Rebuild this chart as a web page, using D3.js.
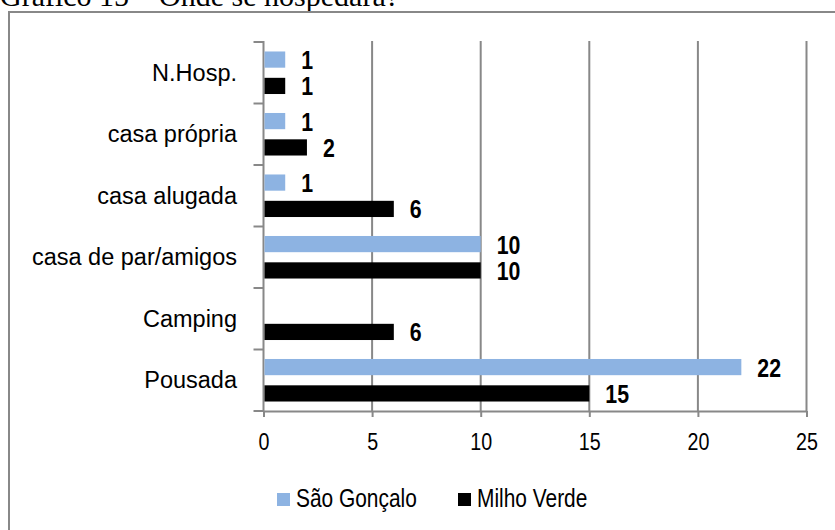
<!DOCTYPE html>
<html>
<head>
<meta charset="utf-8">
<script src="https://cdn.jsdelivr.net/npm/d3@7"></script>
<style>
  body { margin: 0; background: #fff; }
  svg { display: block; }
</style>
</head>
<body>
<div id="chart"></div>
<script>
var width = 835,
    height = 530;

// data
var categories = ["N.Hosp.", "casa própria", "casa alugada", "casa de par/amigos", "Camping", "Pousada"];
var saoGoncalo = [1, 1, 1, 10, null, 22];
var milhoVerde = [1, 2, 6, 10, 6, 15];
var seriesNames = ["São Gonçalo", "Milho Verde"];
var xTicks = [0, 5, 10, 15, 20, 25];

var colors = ["#8db3e2", "#000000"];
var gridColor = "#888888";
var sans = "'Liberation Sans', Arial, sans-serif";
var squeeze = 0.82;   // no Arial Narrow here, so squash Liberation Sans instead

var svg = d3.select("#chart").append("svg")
    .attr("width", width)
    .attr("height", height);

svg.append("rect")
    .attr("width", width).attr("height", height)
    .attr("fill", "#fff");

// caption above the box, mostly cut off
svg.append("text")
    .attr("x", 0)
    .attr("y", 6)
    .style("font-family", "'Liberation Serif', 'Times New Roman', serif")
    .style("font-size", "30px")
    .attr("fill", "#000")
    .text("Gráfico 15 – Onde se hospedará?");

// chart box
svg.append("rect")
    .attr("x", 9).attr("y", 12)
    .attr("width", 900).attr("height", 600)
    .attr("fill", "none")
    .attr("stroke", gridColor)
    .attr("stroke-width", 2);

var x = d3.scaleLinear().domain([0, 25]).range([263.5, 806.5]);
var y = d3.scaleBand().domain(categories).range([42, 411]);
var ySub = d3.scaleBand().domain(seriesNames)
    .range([0, y.bandwidth()])
    .paddingInner(0.385)
    .paddingOuter(0.36);

// vertical gridlines
svg.append("g").selectAll("line")
    .data(xTicks.slice(1))
    .enter().append("line")
    .attr("x1", function(d) { return x(d); })
    .attr("x2", function(d) { return x(d); })
    .attr("y1", 41)
    .attr("y2", 411)
    .attr("stroke", gridColor)
    .attr("stroke-width", 2);

// x axis
var xAxis = svg.append("g")
    .attr("transform", "translate(0,411)")
    .call(d3.axisBottom(x).tickValues(xTicks).tickSize(6).tickPadding(16).tickSizeOuter(0));
xAxis.select(".domain").attr("stroke", gridColor).attr("stroke-width", 2);
xAxis.selectAll(".tick line").attr("stroke", gridColor).attr("stroke-width", 2);
xAxis.selectAll(".tick text")
    .attr("fill", "#000")
    .attr("transform", "scale(" + squeeze + ",1)")
    .style("font-family", sans)
    .style("font-size", "24px");

// y axis line with ticks between categories
svg.append("line")
    .attr("x1", x(0)).attr("x2", x(0))
    .attr("y1", 41).attr("y2", 412)
    .attr("stroke", gridColor)
    .attr("stroke-width", 2);

var bounds = categories.map(function(c) { return y(c); }).concat([y.range()[1]]);
svg.append("g").selectAll("line")
    .data(bounds)
    .enter().append("line")
    .attr("x1", x(0) - 10)
    .attr("x2", x(0))
    .attr("y1", function(d) { return d; })
    .attr("y2", function(d) { return d; })
    .attr("stroke", gridColor)
    .attr("stroke-width", 2);

// category labels
svg.append("g").selectAll("text")
    .data(categories)
    .enter().append("text")
    .attr("x", 237)
    .attr("y", function(d) { return y(d) + y.bandwidth() / 2 + 8; })
    .attr("text-anchor", "end")
    .style("font-family", sans)
    .style("font-size", "23.5px")
    .attr("fill", "#000")
    .text(function(d) { return d; });

// bars + labels
var series = [saoGoncalo, milhoVerde];
series.forEach(function(vals, si) {
    var rows = categories.map(function(c, i) { return { cat: c, value: vals[i] }; })
        .filter(function(d) { return d.value != null; });

    svg.append("g").selectAll("rect")
        .data(rows)
        .enter().append("rect")
        .attr("x", x(0) + 1)
        .attr("y", function(d) { return y(d.cat) + ySub(seriesNames[si]); })
        .attr("width", function(d) { return x(d.value) - x(0) - 1; })
        .attr("height", ySub.bandwidth())
        .attr("fill", colors[si]);

    svg.append("g").selectAll("text")
        .data(rows)
        .enter().append("text")
        .attr("transform", function(d) {
            var tx = x(d.value) + 16,
                ty = y(d.cat) + ySub(seriesNames[si]) + ySub.bandwidth() / 2 + 9.5;
            return "translate(" + tx + "," + ty + ") scale(" + squeeze + ",1)";
        })
        .style("font-family", sans)
        .style("font-size", "26px")
        .style("font-weight", "bold")
        .attr("fill", "#000")
        .text(function(d) { return d.value; });
});

// legend
var legend = svg.append("g").selectAll("g")
    .data(seriesNames)
    .enter().append("g")
    .attr("transform", function(d, i) { return "translate(" + [277, 458][i] + ",493)"; });

legend.append("rect")
    .attr("width", 13).attr("height", 13)
    .attr("fill", function(d, i) { return colors[i]; });

legend.append("text")
    .attr("transform", "translate(19,14) scale(" + squeeze + ",1)")
    .style("font-family", sans)
    .style("font-size", "25.5px")
    .attr("fill", "#000")
    .text(function(d) { return d; });
</script>
</body>
</html>
